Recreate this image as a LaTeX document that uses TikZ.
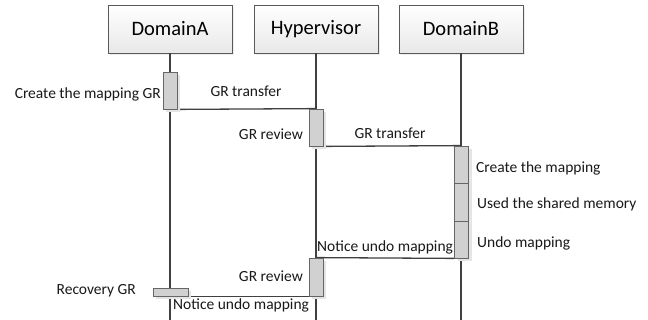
\documentclass[tikz,border=0pt]{standalone}
\usepackage{fontspec}
\setmainfont{Carlito}
\usetikzlibrary{shadows}
\begin{document}
\begin{tikzpicture}[x=1pt,y=-1pt,
  hdr/.style={draw=black!65, line width=0.8pt, top color=white, bottom color=black!9,
    minimum width=124pt, minimum height=48pt, inner sep=0pt,
    font=\fontsize{20.5}{24}\selectfont,
    drop shadow={shadow xshift=2pt, shadow yshift=-2pt, fill=black!12, opacity=0.6}},
  act/.style={draw=black!60, line width=0.8pt, fill=black!18, inner sep=0pt,
    minimum width=14pt,
    drop shadow={shadow xshift=3pt, shadow yshift=-3pt, fill=black!10, opacity=1}},
  life/.style={draw=black!75, line width=1.3pt},
  msg/.style={draw=black!75, line width=1.3pt},
  lbl/.style={font=\fontsize{15.5}{18}\selectfont, inner sep=0pt, text=black!90}]
\fill[white] (0,0) rectangle (648,320);
\path[use as bounding box] (0,0) rectangle (648,320);
% headers
\node[hdr] (hA) at (170,29) {DomainA};
\node[hdr] (hH) at (316,29) {Hypervisor};
\node[hdr] (hB) at (461,29) {DomainB};
% lifeline ends
\coordinate (eA) at (170,321);
\coordinate (eH) at (316,321);
\coordinate (eB) at (461,321);
\draw[life] (hA.south) -- (eA);
\draw[life] (hH.south) -- (eH);
\draw[life] (hB.south) -- (eB);
% activation positions
\coordinate (pa1) at (170,90.5);
\coordinate (ph1) at (316,127.5);
\coordinate (pb1) at (461.5,164.5);
\coordinate (pb2) at (461.5,202);
\coordinate (pb3) at (461.5,239.5);
\coordinate (ph2) at (316,277);
\coordinate (pr) at (170.5,292);
% activations (named, drawn after messages below)
\path (pa1) node[act, minimum height=37pt] (a1) {};
\path (ph1) node[act, minimum height=37pt] (h1) {};
\path (pb1) node[act, minimum height=37pt] (b1) {};
\path (pb2) node[act, minimum height=38pt] (b2) {};
\path (pb3) node[act, minimum height=37pt] (b3) {};
\path (ph2) node[act, minimum height=38pt] (h2) {};
\path (pr) node[act, minimum height=8pt, minimum width=35pt] (r) {};
% messages
\draw[msg] (a1.south east) -- (h1.north);
\draw[msg] (h1.south east) -- (b1.north);
\draw[msg] (b3.south west) -- (h2.north);
\draw[msg] (h2.south) -- (r.south east);
% redraw activations on top of messages
\path (pa1) node[act, minimum height=37pt] {};
\path (ph1) node[act, minimum height=37pt] {};
\path (pb1) node[act, minimum height=37pt] {};
\path (pb2) node[act, minimum height=38pt] {};
\path (pb3) node[act, minimum height=37pt] {};
\path (ph2) node[act, minimum height=38pt] {};
\path (pr) node[act, minimum height=8pt, minimum width=35pt] {};
% labels
\node[lbl, anchor=base east] (t1) at (161,99) {Create the mapping GR};
\node[lbl, anchor=base] (t2) at (246,97) {GR transfer};
\node[lbl, anchor=base east] (t3) at (303,140) {GR review};
\node[lbl, anchor=base] (t4) at (390,139) {GR transfer};
\node[lbl, anchor=base west] (t5) at (476,173) {Create the mapping};
\node[lbl, anchor=base west] (t6) at (477,209) {Used the shared memory};
\node[lbl, anchor=base west] (t7) at (477,248) {Undo mapping};
\node[lbl, anchor=base west] (t8) at (317,252) {Notice undo mapping};
\node[lbl, anchor=base east] (t9) at (303,282) {GR review};
\node[lbl, anchor=base east] (t10) at (136,295) {Recovery GR};
\node[lbl, anchor=base west] (t11) at (173,310) {Notice undo mapping};
\end{tikzpicture}
\end{document}
